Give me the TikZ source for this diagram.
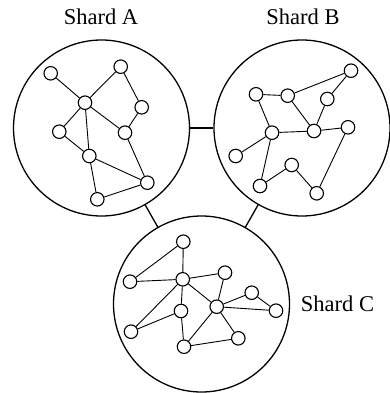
\documentclass[tikz,border=0pt]{standalone}
\usepackage{fontspec}
\setmainfont{Liberation Serif}
\begin{document}
\begin{tikzpicture}[x=1pt,y=-1pt,
  shard/.style={circle,draw,line width=1.3pt,minimum size=176pt,inner sep=0pt},
  vtx/.style={circle,draw,line width=1.1pt,fill=white,minimum size=13.5pt,inner sep=0pt},
  edge/.style={line width=0.9pt},
  link/.style={line width=1.3pt},
  lbl/.style={font=\fontsize{22.5}{24}\selectfont,anchor=base,inner sep=0pt}]
\useasboundingbox (0,0) rectangle (390,393);
% shards
\node[shard] (A) at (101.5,128) {};
\node[shard] (B) at (302,128) {};
\node[shard] (C) at (201.5,304) {};
\draw[link] (A) -- (B);
\draw[link] (A) -- (C);
\draw[link] (B) -- (C);
% labels
\node[lbl] (la) at (101,25) {Shard A};
\node[lbl] (lb) at (303,25) {Shard B};
\node[lbl] (lc) at (337.5,311.5) {Shard C};
% shard A
\node[vtx] (a1) at (50.7,73.3) {};
\node[vtx] (a2) at (120.7,66.7) {};
\node[vtx] (a3) at (85,102.7) {};
\node[vtx] (a4) at (141.7,107.3) {};
\node[vtx] (a5) at (59.3,131.7) {};
\node[vtx] (a6) at (125,132.7) {};
\node[vtx] (a7) at (89.3,156) {};
\node[vtx] (a8) at (147.3,182.7) {};
\node[vtx] (a9) at (97.3,199.3) {};
\foreach \u/\v in {a1/a3,a3/a2,a2/a4,a4/a6,a3/a6,a3/a5,a3/a7,a5/a7,a7/a8,a6/a8,a8/a9,a7/a9}
  \draw[edge] (\u) -- (\v);
% shard B
\node[vtx] (b1) at (351,70.7) {};
\node[vtx] (b2) at (256,94.3) {};
\node[vtx] (b3) at (287.7,95.7) {};
\node[vtx] (b4) at (327.3,99) {};
\node[vtx] (b5) at (272,132.7) {};
\node[vtx] (b6) at (314,131) {};
\node[vtx] (b7) at (348,127.3) {};
\node[vtx] (b8) at (235.7,156) {};
\node[vtx] (b9) at (291.7,165) {};
\node[vtx] (b10) at (260,186) {};
\node[vtx] (b11) at (316.7,193.3) {};
\foreach \u/\v in {b2/b3,b3/b1,b1/b4,b4/b6,b3/b6,b2/b5,b5/b6,b6/b7,b5/b8,b5/b10,b10/b9,b9/b11,b11/b7}
  \draw[edge] (\u) -- (\v);
% shard C
\node[vtx] (c1) at (183.3,241.7) {};
\node[vtx] (c2) at (225,272.7) {};
\node[vtx] (c3) at (182.7,279.3) {};
\node[vtx] (c4) at (130,281.7) {};
\node[vtx] (c5) at (251.7,292.7) {};
\node[vtx] (c6) at (216.7,306.7) {};
\node[vtx] (c7) at (181,311) {};
\node[vtx] (c8) at (276,310.7) {};
\node[vtx] (c9) at (131,331.7) {};
\node[vtx] (c10) at (238.3,338.3) {};
\node[vtx] (c11) at (184,346.7) {};
\foreach \u/\v in {c1/c3,c1/c4,c4/c3,c3/c2,c2/c6,c3/c6,c3/c7,c3/c9,c9/c7,c7/c11,c11/c6,c6/c10,c11/c10,c6/c5,c5/c8,c6/c8}
  \draw[edge] (\u) -- (\v);
\end{tikzpicture}
\end{document}
